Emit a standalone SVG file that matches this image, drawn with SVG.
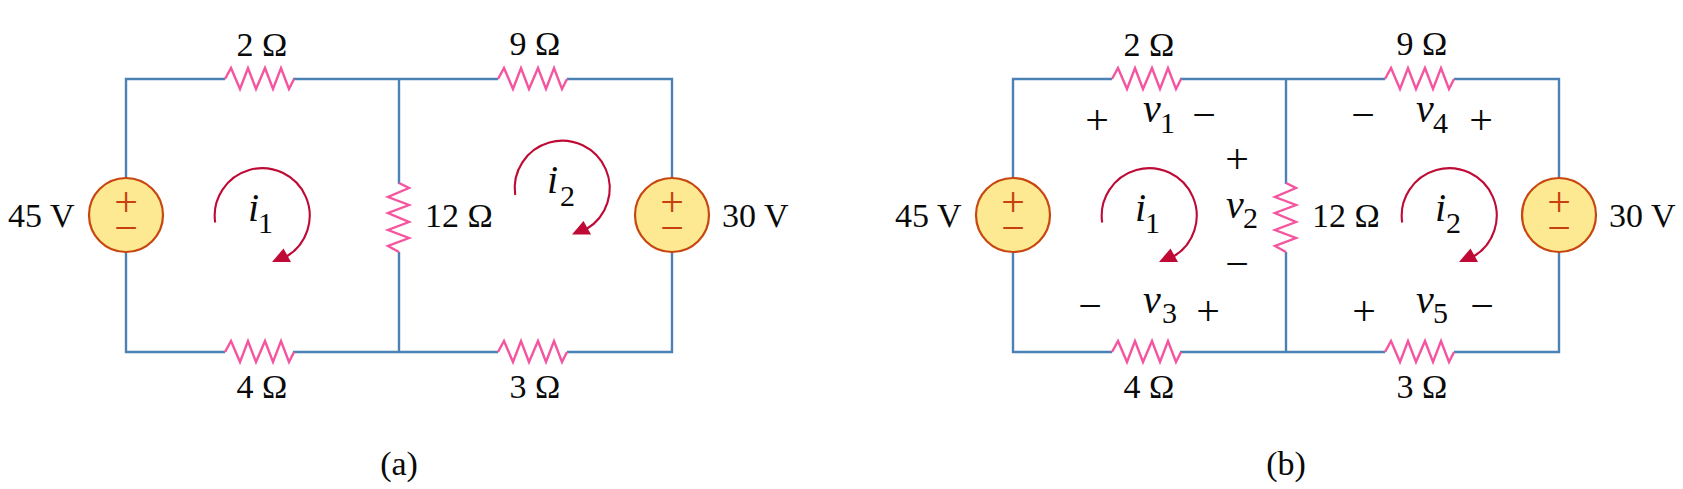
<svg xmlns="http://www.w3.org/2000/svg" width="1683" height="489" viewBox="0 0 1683 489">
<style>
text{font-family:"Liberation Serif","Times New Roman",serif;fill:#0a0a0a}
.l{font-size:34px}
.m{font-size:34px;text-anchor:middle}
.v{font-size:40px;font-style:italic}
.s{font-size:30px}
.p{font-size:42px;text-anchor:middle}
.src{font-size:42px;text-anchor:middle;fill:#c8400f}
.w{fill:none;stroke:#4a82b5;stroke-width:2.4}
.r{fill:none;stroke:#f5549f;stroke-width:2.4}
.c{fill:#fde992;stroke:#c8460f;stroke-width:2.2}
.a{fill:none;stroke:#be0a35;stroke-width:2.1}
.h{fill:#be0a35}
</style>
<defs>
<path id="rh" class="r" d="M0,0 L6,-11 L15,10 L23,-11 L31,10 L40,-11 L48,10 L56,-11 L64,10 L69,0"/>
<path id="rv" class="r" d="M0,0 L10,5 L-11,14 L10,22 L-11,30 L10,39 L-11,47 L10,55 L-11,63 L0,69"/>
<g id="vs"><circle class="c" r="37"/><text class="src" x="0" y="1">+</text><text class="src" x="0" y="26.500">−</text></g>
<g id="loop"><path class="a" d="M-47.3,7.5 A47.5,47.5 0 1 1 24,41.5"/><path class="h" d="M9.5,47 L21,33.5 L28.5,47 Z"/></g>
</defs>

<g id="connectors">
<path class="w" d="M225,79 H126 V178 M126,252 V352 H225 M293,79 H498 M567,79 H672 V178 M672,252 V352 H567 M498,352 H293 M399,79 V184 M399,252 V352"/>
<path class="w" d="M1112,79 H1013 V178 M1013,252 V352 H1112 M1180,79 H1385 M1454,79 H1559 V178 M1559,252 V352 H1454 M1385,352 H1180 M1286,79 V184 M1286,252 V352"/>
</g>

<g id="a-r2"><use href="#rh" x="225" y="79"/><text class="m" x="262" y="56">2 Ω</text></g>
<g id="a-r9"><use href="#rh" x="498" y="79"/><text class="m" x="535" y="55">9 Ω</text></g>
<g id="a-r4"><use href="#rh" x="225" y="352"/><text class="m" x="262" y="398">4 Ω</text></g>
<g id="a-r3"><use href="#rh" x="498" y="352"/><text class="m" x="535" y="398">3 Ω</text></g>
<g id="a-r12"><use href="#rv" x="399" y="183"/><text class="l" x="425" y="227">12 Ω</text></g>
<g id="a-v45"><use href="#vs" x="126" y="215"/><text class="l" x="8" y="227">45 V</text></g>
<g id="a-v30"><use href="#vs" x="672" y="215"/><text class="l" x="722" y="227">30 V</text></g>
<g id="a-i1"><use href="#loop" x="262.500" y="215"/><text class="v" x="248" y="221">i</text><text class="s" x="258" y="233">1</text></g>
<g id="a-i2"><use href="#loop" x="562.500" y="187.500"/><text class="v" x="547" y="193">i</text><text class="s" x="560" y="206">2</text></g>
<text id="a-cap" class="m" x="399" y="475">(a)</text>

<g id="b-r2"><use href="#rh" x="1112" y="79"/><text class="m" x="1149" y="56">2 Ω</text></g>
<g id="b-r9"><use href="#rh" x="1385" y="79"/><text class="m" x="1422" y="55">9 Ω</text></g>
<g id="b-r4"><use href="#rh" x="1112" y="352"/><text class="m" x="1149" y="398">4 Ω</text></g>
<g id="b-r3"><use href="#rh" x="1385" y="352"/><text class="m" x="1422" y="398">3 Ω</text></g>
<g id="b-r12"><use href="#rv" x="1286" y="183"/><text class="l" x="1312" y="227">12 Ω</text></g>
<g id="b-v45"><use href="#vs" x="1013" y="215"/><text class="l" x="895" y="227">45 V</text></g>
<g id="b-v30"><use href="#vs" x="1559" y="215"/><text class="l" x="1609" y="227">30 V</text></g>
<g id="b-i1"><use href="#loop" x="1149.500" y="215"/><text class="v" x="1135" y="221">i</text><text class="s" x="1145" y="233">1</text></g>
<g id="b-i2"><use href="#loop" x="1449.500" y="215"/><text class="v" x="1435" y="221">i</text><text class="s" x="1446" y="233">2</text></g>
<g id="b-v1"><text class="p" x="1097" y="134">+</text><text class="v" x="1143" y="122">v</text><text class="s" x="1160" y="133">1</text><text class="p" x="1204" y="129">−</text></g>
<g id="b-v2"><text class="p" x="1237" y="173">+</text><text class="v" x="1226" y="218">v</text><text class="s" x="1243" y="228">2</text><text class="p" x="1237" y="278">−</text></g>
<g id="b-v3"><text class="p" x="1090" y="320">−</text><text class="v" x="1143" y="313">v</text><text class="s" x="1162" y="323">3</text><text class="p" x="1208" y="325">+</text></g>
<g id="b-v4"><text class="p" x="1363" y="129">−</text><text class="v" x="1416" y="122">v</text><text class="s" x="1433" y="133">4</text><text class="p" x="1481" y="134">+</text></g>
<g id="b-v5"><text class="p" x="1364" y="325">+</text><text class="v" x="1416" y="313">v</text><text class="s" x="1433" y="323">5</text><text class="p" x="1482" y="320">−</text></g>
<text id="b-cap" class="m" x="1286" y="475">(b)</text>
</svg>
